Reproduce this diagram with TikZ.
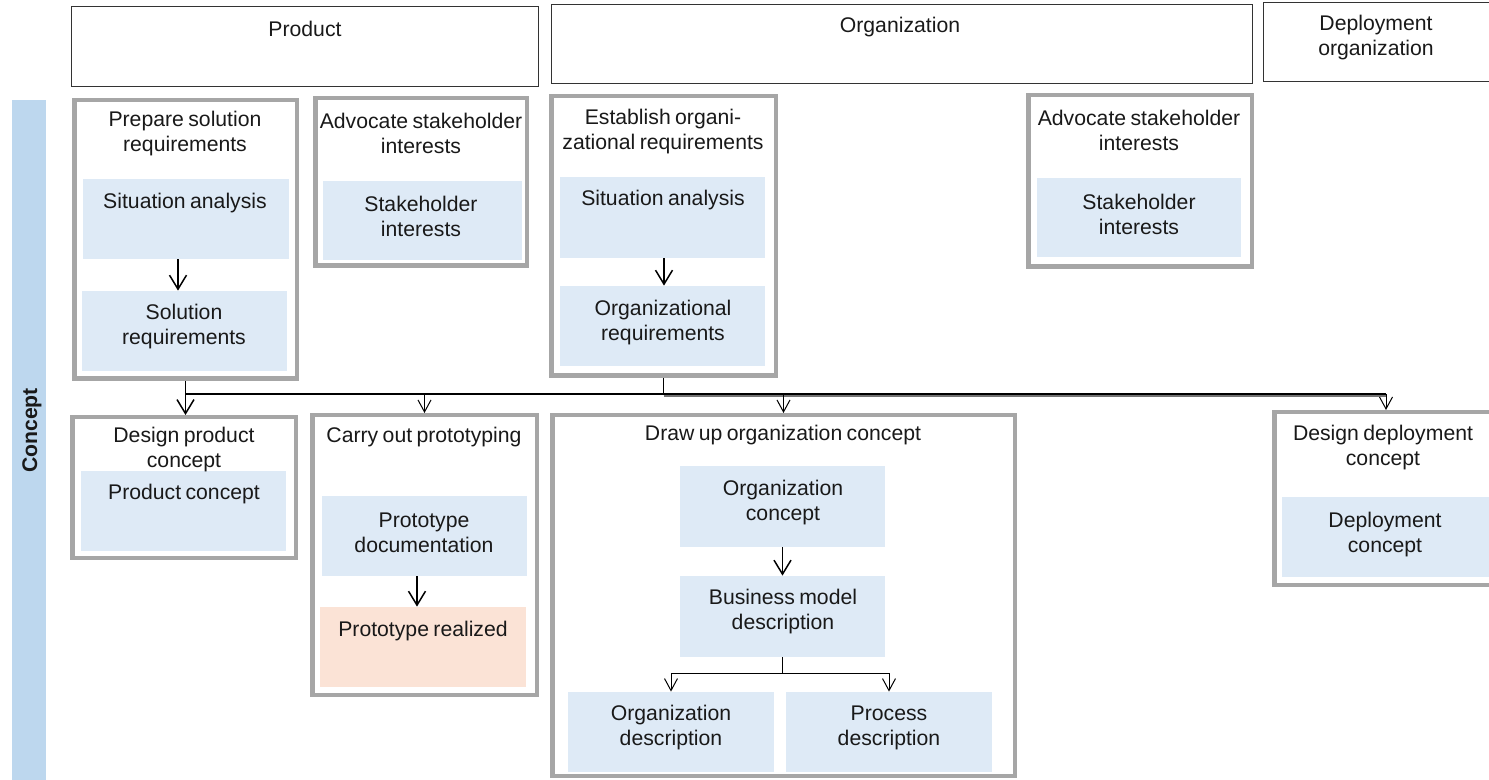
\documentclass[tikz,border=0pt]{standalone}
\usepackage{fontspec}
\setmainfont{Liberation Sans}[WordSpace=0.75]
\usetikzlibrary{arrows.meta,fit}
\definecolor{innerblue}{HTML}{DEEAF6}
\definecolor{peach}{HTML}{FBE3D6}
\definecolor{boxgray}{HTML}{A6A6A6}
\definecolor{barblue}{HTML}{BDD7EE}
\begin{document}
\begin{tikzpicture}[x=0.5pt,y=-0.5pt,
  font=\fontsize{10.6}{12.5}\selectfont,
  graybox/.style={draw=boxgray, line width=2.25pt, inner sep=0pt, fill=white},
  headbox/.style={draw=black!80, line width=0.5pt, inner sep=0pt},
  bluebox/.style={fill=innerblue, inner sep=0pt},
  peachbox/.style={fill=peach, inner sep=0pt},
  txt/.style={align=center, inner sep=0pt, text=black!90, yshift=-1.25pt},
  arrbig/.style={line width=0.75pt, -{Straight Barb[length=7pt,width=8.5pt]}},
  arrsmall/.style={line width=0.5pt, -{Straight Barb[length=6pt,width=6.5pt]}},
  busblack/.style={line width=0.6pt, black},
  busgray/.style={line width=0.6pt, black!55},
  thinline/.style={line width=0.5pt, black}]
\useasboundingbox (0,0) rectangle (1489,780);
\clip (0,0) rectangle (1489,780);

% header boxes
\node[headbox, fit={(71,7) (538,87)}] (hprod) {};
\node[headbox, fit={(551,5) (1252,84)}] (horg) {};
\node[headbox, fit={(1263,3) (1495,82)}] (hdep) {};
\node[txt] (hprodt) at (305,26) {Product};
\node[txt] (horgt) at (900,25) {Organization};
\node[txt] (hdept) at (1376,35) {Deployment\\organization};

% concept bar
\node[fill=barblue, inner sep=0pt, fit={(12,100) (46,780)}] (bar) {};
\node[txt, rotate=90, yshift=0pt, font=\fontsize{10.6}{12.5}\selectfont\bfseries] (bart) at (32,428) {Concept};

% gray process boxes
\node[graybox, fit={(74.25,100.25) (296.75,378.75)}] (A) {};
\node[graybox, fit={(315.25,98.25) (526.75,265.75)}] (B) {};
\node[graybox, fit={(551.25,96.25) (775.75,375.75)}] (C) {};
\node[graybox, fit={(1028.25,95.25) (1251.75,266.75)}] (D) {};
\node[graybox, fit={(72.25,417.25) (295.75,557.75)}] (E) {};
\node[graybox, fit={(312.25,415.25) (536.75,694.75)}] (F) {};
\node[graybox, fit={(552.25,415.25) (1014.75,775.75)}] (G) {};
\node[graybox, fit={(1274.25,412.25) (1497.75,584.75)}] (H) {};

% inner boxes
\node[bluebox, fit={(83,179) (289,259)}] (A1) {};
\node[bluebox, fit={(82,291) (287,371)}] (A2) {};
\node[bluebox, fit={(323,181) (522,260)}] (B1) {};
\node[bluebox, fit={(560,177) (765,258)}] (C1) {};
\node[bluebox, fit={(560,286) (765,366)}] (C2) {};
\node[bluebox, fit={(1037,178) (1241,257)}] (D1) {};
\node[bluebox, fit={(81,471) (286,551)}] (E1) {};
\node[bluebox, fit={(322,496) (527,576)}] (F1) {};
\node[peachbox, fit={(320,607) (526,687)}] (F2) {};
\node[bluebox, fit={(680,466) (885,547)}] (G1) {};
\node[bluebox, fit={(680,576) (885,657)}] (G2) {};
\node[bluebox, fit={(568,692) (774,772)}] (G3) {};
\node[bluebox, fit={(786,692) (992,772)}] (G4) {};
\node[bluebox, fit={(1282,497) (1500,577)}] (H1) {};

% titles
\node[txt] (At) at (185,131) {Prepare solution\\requirements};
\node[txt] (Bt) at (421,130.5) {Advocate stakeholder\\interests};
\node[txt] (Ct) at (663,129.5) {Establish organi-\\zational requirements};
\node[txt] (Dt) at (1139,127.5) {Advocate stakeholder\\interests};
\node[txt] (Et) at (184,447.5) {Design product\\concept};
\node[txt] (Ft) at (424,435) {Carry out prototyping};
\node[txt] (Gt) at (783,433) {Draw up organization concept};
\node[txt] (Ht) at (1383,445) {Design deployment\\concept};

% inner texts
\node[txt] (A1t) at (185,200.5) {Situation analysis};
\node[txt] (A2t) at (184,324.5) {Solution\\requirements};
\node[txt] (B1t) at (421,214) {Stakeholder\\interests};
\node[txt] (C1t) at (663,198) {Situation analysis};
\node[txt] (C2t) at (663,320.5) {Organizational\\requirements};
\node[txt] (D1t) at (1139,211.5) {Stakeholder\\interests};
\node[txt] (E1t) at (184,492) {Product concept};
\node[txt] (F1t) at (424,530) {Prototype\\documentation};
\node[txt] (F2t) at (423,629) {Prototype realized};
\node[txt] (G1t) at (783,500.5) {Organization\\concept};
\node[txt] (G2t) at (783,609.5) {Business model\\description};
\node[txt] (G3t) at (671,725.5) {Organization\\description};
\node[txt] (G4t) at (889,725.5) {Process\\description};
\node[txt] (H1t) at (1385,532) {Deployment\\concept};

% arrows inside boxes
\draw[arrbig] ([xshift=-4pt]A1.south) -- ([xshift=-4pt]A1.south |- A2.north);
\draw[arrbig] ([xshift=0.75pt]C1.south) -- ([xshift=0.75pt]C1.south |- C2.north);
\draw[arrbig] ([xshift=-3.75pt]F1.south) -- ([xshift=-3.75pt]F1.south |- F2.north);
\draw[arrbig] (G1.south) -- (G1.south |- G2.north);
\coordinate (gsplit) at (0,673);
\draw[thinline] (G2.south) -- (G2.south |- gsplit);
\draw[arrsmall] (G2.south |- gsplit) -| (G3.north);
\draw[arrsmall] (G2.south |- gsplit) -| (G4.north);

% main bus
\coordinate (bus) at (0,394);
\coordinate (busg) at (0,396);
\draw[busgray] (C.south |- busg) -- (H.north |- busg);
\draw[busblack] (A.south |- bus) -- (H.north |- bus);
\draw[thinline] (C.south) -- (C.south |- bus);
\draw[arrbig] (A.south) -- (A.south |- E.north);
\draw[arrsmall] (F.north |- bus) -- (F.north);
\draw[arrsmall] (G.north |- bus) -- (G.north);
\draw[arrsmall] (H.north |- bus) -- (H.north);
\end{tikzpicture}
\end{document}
